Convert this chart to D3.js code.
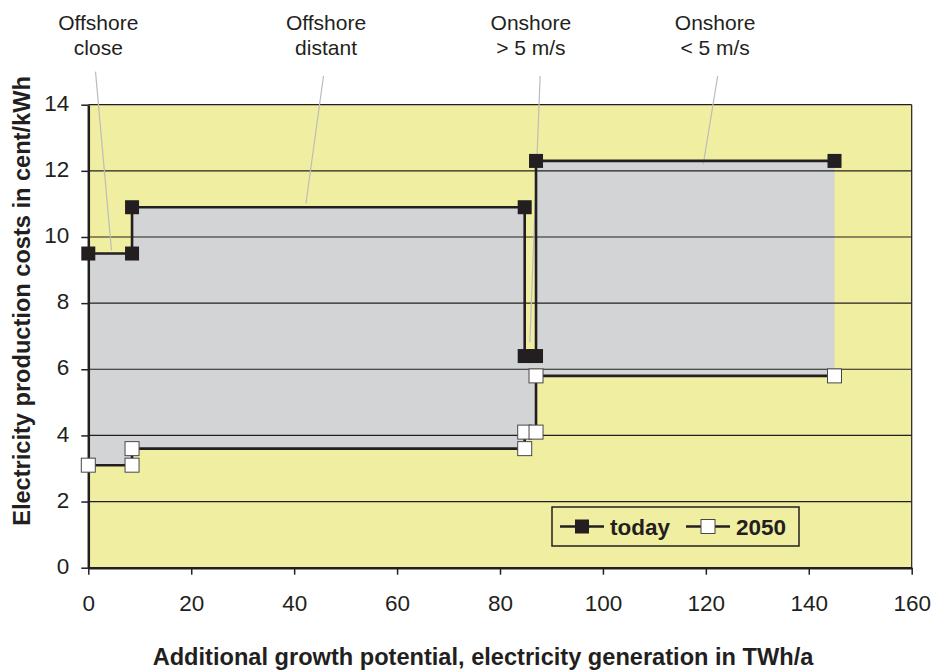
<!DOCTYPE html>
<html>
<head>
<meta charset="utf-8">
<script src="https://cdn.jsdelivr.net/npm/d3@7"></script>
<style>
body { margin: 0; background: #fff; }
text { font-family: "Liberation Sans", Arial, sans-serif; fill: #231f20; }
</style>
</head>
<body>
<div class="wind-chart"></div>
<script>
// step points of the cost curve (TWh/a potential, cent/kWh)
const xBreaks = [0, 8.5, 8.5, 84.8, 84.8, 87.0, 87.0, 145];
const costToday = [9.5, 9.5, 10.9, 10.9, 6.4, 6.4, 12.3, 12.3];
const cost2050 = [3.1, 3.1, 3.6, 3.6, 4.1, 4.1, 5.8, 5.8];

const seriesNames = ['today', '2050'];
const xTicks = [0, 20, 40, 60, 80, 100, 120, 140, 160];
const yTicks = [0, 2, 4, 6, 8, 10, 12, 14];

// category callouts: label centre x, line start (x,y), line end (x,y) in data units
const calloutLines = [['Offshore', 'close'], ['Offshore', 'distant'], ['Onshore', '> 5 m/s'], ['Onshore', '< 5 m/s']];
const calloutLabelX = [1.95, 46.2, 86.0, 121.8];
const calloutFrom = [[1.4, 15.0], [45.7, 14.87], [87.8, 14.87], [122.3, 14.87]];
const calloutTo = [[4.5, 9.6], [42.3, 11.02], [85.8, 6.82], [119.5, 12.2]];

const width = 933;
const height = 670;
const margin = {left: 88.3, top: 104.7, right: 21.3, bottom: 102.3};

const ink = '#231f20';
const yellow = '#f0eea0';
const grey = '#d3d4d6';

const data = xBreaks.map((x, i) => ({x: x, today: costToday[i], future: cost2050[i]}));

const svg = d3.select('.wind-chart')
.append('svg')
.attr('width', width)
.attr('height', height);

const xScale = d3.scaleLinear()
.domain([0, 160])
.range([margin.left, width - margin.right]);

const yScale = d3.scaleLinear()
.domain([0, 14])
.range([height - margin.bottom, margin.top]);

// plot background
svg.append('rect')
.attr('x', xScale(0))
.attr('y', yScale(14))
.attr('width', xScale(160) - xScale(0))
.attr('height', yScale(0) - yScale(14))
.attr('fill', yellow);

// grey band between today and 2050
const area = d3.area()
.x(d => xScale(d.x))
.y0(d => yScale(d.future))
.y1(d => yScale(d.today));

svg.append('path')
.datum(data)
.attr('d', area)
.attr('fill', grey);

// gridlines
svg.append('g')
.selectAll('line')
.data(yTicks.filter(d => d > 0))
.join('line')
.attr('x1', xScale(0))
.attr('x2', xScale(160))
.attr('y1', d => yScale(d))
.attr('y2', d => yScale(d))
.attr('stroke', ink)
.attr('stroke-width', 1.2);

// right border
svg.append('line')
.attr('x1', xScale(160)).attr('x2', xScale(160))
.attr('y1', yScale(14)).attr('y2', yScale(0))
.attr('stroke', ink).attr('stroke-width', 1.2);

// axes
const xAxis = svg.append('g')
.attr('transform', `translate(0,${yScale(0)})`)
.call(d3.axisBottom(xScale).tickValues(xTicks).tickSize(7).tickSizeOuter(0).tickPadding(20));

const yAxis = svg.append('g')
.attr('transform', `translate(${xScale(0)},0)`)
.call(d3.axisLeft(yScale).tickValues(yTicks).tickSize(7).tickSizeOuter(0).tickPadding(12));

[xAxis, yAxis].forEach(ax => {
	ax.select('.domain').attr('stroke', ink).attr('stroke-width', 2.5);
	ax.selectAll('.tick line').attr('stroke', ink).attr('stroke-width', 1.5);
	ax.selectAll('.tick text')
	.style('font-family', '"Liberation Sans", Arial, sans-serif')
	.style('font-size', '22.5px')
	.attr('fill', ink);
});
yAxis.selectAll('.tick text').attr('dy', '0.25em');

// callout lines and labels
const callouts = svg.append('g');
calloutLines.forEach((lines, i) => {
	callouts.append('line')
	.attr('x1', xScale(calloutFrom[i][0]))
	.attr('y1', yScale(calloutFrom[i][1]))
	.attr('x2', xScale(calloutTo[i][0]))
	.attr('y2', yScale(calloutTo[i][1]))
	.attr('stroke', '#bcbcbc')
	.attr('stroke-width', 1.2);

	lines.forEach((t, j) => {
		callouts.append('text')
		.attr('x', xScale(calloutLabelX[i]))
		.attr('y', 30 + j * 25)
		.attr('text-anchor', 'middle')
		.style('font-size', '21px')
		.text(t);
	});
});

// series lines
const line = d3.line().x(d => xScale(d.x));

svg.append('path')
.datum(data)
.attr('d', line.y(d => yScale(d.future)))
.attr('fill', 'none')
.attr('stroke', ink)
.attr('stroke-width', 2.6);

svg.append('path')
.datum(data)
.attr('d', line.y(d => yScale(d.today)))
.attr('fill', 'none')
.attr('stroke', ink)
.attr('stroke-width', 2.6);

const sq = 14;

svg.append('g')
.selectAll('rect')
.data(data)
.join('rect')
.attr('x', d => xScale(d.x) - sq / 2)
.attr('y', d => yScale(d.future) - sq / 2)
.attr('width', sq)
.attr('height', sq)
.attr('fill', '#fff')
.attr('stroke', '#4a4647')
.attr('stroke-width', 1);

svg.append('g')
.selectAll('rect')
.data(data)
.join('rect')
.attr('x', d => xScale(d.x) - sq / 2)
.attr('y', d => yScale(d.today) - sq / 2)
.attr('width', sq)
.attr('height', sq)
.attr('fill', ink);

// legend
const legend = svg.append('g').attr('transform', 'translate(552,507)');

legend.append('rect')
.attr('width', 247)
.attr('height', 39)
.attr('fill', yellow)
.attr('stroke', ink)
.attr('stroke-width', 1.5);

const legendX = [8, 134];
seriesNames.forEach((name, i) => {
	const g = legend.append('g').attr('transform', `translate(${legendX[i]},19.5)`);
	g.append('line')
	.attr('x1', 0).attr('x2', 44)
	.attr('stroke', ink).attr('stroke-width', 2.6);
	g.append('rect')
	.attr('x', 22 - sq / 2).attr('y', -sq / 2)
	.attr('width', sq).attr('height', sq)
	.attr('fill', i === 0 ? ink : '#fff')
	.attr('stroke', i === 0 ? 'none' : '#4a4647');
	g.append('text')
	.attr('x', 50)
	.attr('y', 8.5)
	.style('font-size', '22.5px')
	.style('font-weight', 'bold')
	.text(name);
});

// axis titles
svg.append('text')
.attr('x', 483)
.attr('y', 665)
.attr('text-anchor', 'middle')
.style('font-size', '23.6px')
.style('font-weight', 'bold')
.text('Additional growth potential, electricity generation in TWh/a');

svg.append('text')
.attr('transform', 'translate(30,301) rotate(-90)')
.attr('text-anchor', 'middle')
.style('font-size', '23.6px')
.style('font-weight', 'bold')
.text('Electricity production costs in cent/kWh');
</script>
</body>
</html>
